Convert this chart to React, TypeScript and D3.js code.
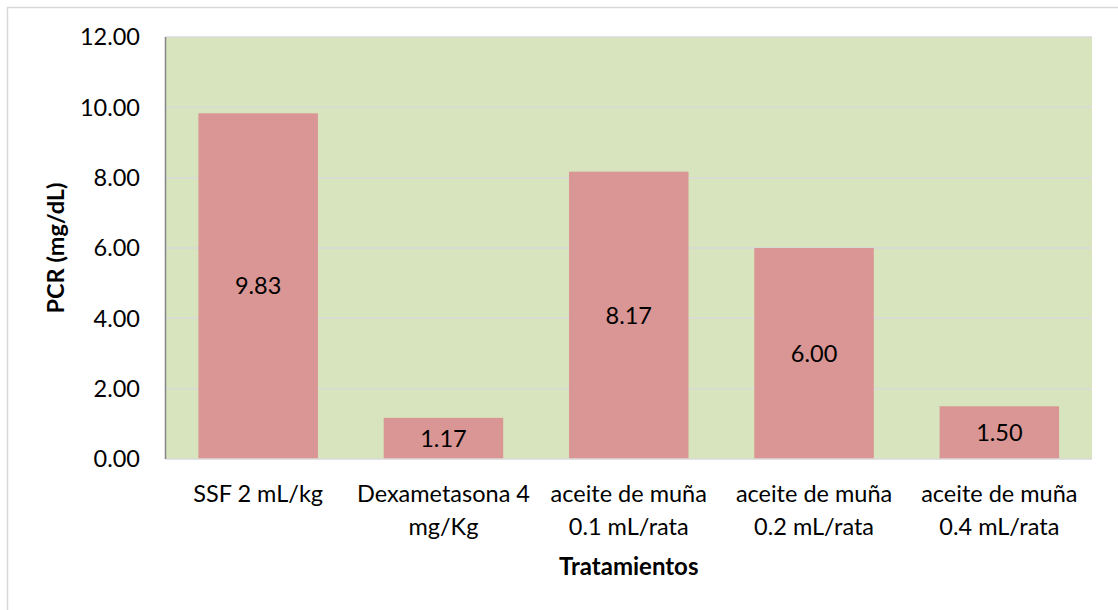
import * as d3 from 'd3';
import { useEffect, useRef } from 'react';

const categories = [
  ['SSF 2 mL/kg'],
  ['Dexametasona 4', 'mg/Kg'],
  ['aceite de muña', '0.1 mL/rata'],
  ['aceite de muña', '0.2 mL/rata'],
  ['aceite de muña', '0.4 mL/rata'],
];
const values = [9.83, 1.17, 8.17, 6.0, 1.5];
const yTicks = [0, 2, 4, 6, 8, 10, 12];

const FONT = 'Lato, "Open Sans", sans-serif';

export default function App() {
  const svgRef = useRef<SVGSVGElement>(null);

  useEffect(() => {
    if (!svgRef.current) return;
    const svg = d3.select(svgRef.current);
    svg.selectAll('*').remove();

    const width = 1118;
    const height = 610;
    const plot = { left: 165.5, right: 1092, top: 37, bottom: 459 };

    // chart border
    svg
      .append('rect')
      .attr('x', 7.5)
      .attr('y', 7.5)
      .attr('width', width)
      .attr('height', height)
      .attr('fill', '#fff')
      .attr('stroke', '#d9d9d9')
      .attr('stroke-width', 1.5);

    const x = d3
      .scaleBand<number>()
      .domain(d3.range(values.length))
      .range([plot.left, plot.right])
      .paddingInner(0.355)
      .paddingOuter(0.1775);

    const y = d3.scaleLinear().domain([0, 12]).range([plot.bottom, plot.top]);

    // plot area background
    svg
      .append('rect')
      .attr('x', plot.left)
      .attr('y', plot.top)
      .attr('width', plot.right - plot.left)
      .attr('height', plot.bottom - plot.top)
      .attr('fill', '#d7e4bd');

    // gridlines
    svg
      .append('g')
      .selectAll('line')
      .data(yTicks.filter((t) => t > 0))
      .enter()
      .append('line')
      .attr('x1', plot.left)
      .attr('x2', plot.right)
      .attr('y1', (d) => y(d))
      .attr('y2', (d) => y(d))
      .attr('stroke', '#d9d9d9')
      .attr('stroke-width', 1.5);

    // bars
    svg
      .append('g')
      .selectAll('rect')
      .data(values)
      .enter()
      .append('rect')
      .attr('x', (_, i) => x(i)!)
      .attr('y', (d) => y(d))
      .attr('width', x.bandwidth())
      .attr('height', (d) => y(0) - y(d))
      .attr('fill', '#d99694');

    // value labels
    svg
      .append('g')
      .selectAll('text')
      .data(values)
      .enter()
      .append('text')
      .attr('x', (_, i) => x(i)! + x.bandwidth() / 2)
      .attr('y', (d) => (y(d) + y(0)) / 2)
      .attr('dy', '0.35em')
      .attr('text-anchor', 'middle')
      .style('font-family', FONT)
      .style('font-size', '23.5px')
      .attr('fill', '#000')
      .text((d) => d.toFixed(2));

    // bottom axis line
    svg
      .append('line')
      .attr('x1', plot.left)
      .attr('x2', plot.right)
      .attr('y1', y(0))
      .attr('y2', y(0))
      .attr('stroke', '#d9d9d9')
      .attr('stroke-width', 1.5);

    // left axis line
    svg
      .append('line')
      .attr('x1', plot.left)
      .attr('x2', plot.left)
      .attr('y1', plot.top)
      .attr('y2', plot.bottom)
      .attr('stroke', '#868686')
      .attr('stroke-width', 1.5);

    // y tick labels
    svg
      .append('g')
      .selectAll('text')
      .data(yTicks)
      .enter()
      .append('text')
      .attr('x', 140)
      .attr('y', (d) => y(d))
      .attr('dy', '0.35em')
      .attr('text-anchor', 'end')
      .style('font-family', FONT)
      .style('font-size', '23.5px')
      .attr('fill', '#000')
      .text((d) => d.toFixed(2));

    // x category labels
    const xLabels = svg
      .append('g')
      .selectAll('text')
      .data(categories)
      .enter()
      .append('text')
      .attr('text-anchor', 'middle')
      .style('font-family', FONT)
      .style('font-size', '23.5px')
      .attr('fill', '#000');
    xLabels
      .selectAll('tspan')
      .data((d, i) => d.map((line) => ({ line, i })))
      .enter()
      .append('tspan')
      .attr('x', (d) => x(d.i)! + x.bandwidth() / 2)
      .attr('y', (_, j) => 502 + j * 33)
      .text((d) => d.line);

    // axis titles
    svg
      .append('text')
      .attr('x', (plot.left + plot.right) / 2)
      .attr('y', 575)
      .attr('text-anchor', 'middle')
      .style('font-family', FONT)
      .style('font-size', '24px')
      .style('font-weight', 'bold')
      .attr('fill', '#000')
      .text('Tratamientos');

    svg
      .append('text')
      .attr('transform', `translate(64,${(plot.top + plot.bottom) / 2})rotate(-90)`)
      .attr('text-anchor', 'middle')
      .style('font-family', FONT)
      .style('font-size', '23.5px')
      .style('font-weight', 'bold')
      .attr('fill', '#000')
      .text('PCR (mg/dL)');
  }, []);

  return (
    <svg
      ref={svgRef}
      width={1118}
      height={610}
      style={{ position: 'absolute', left: 0, top: 0, display: 'block' }}
    />
  );
}
